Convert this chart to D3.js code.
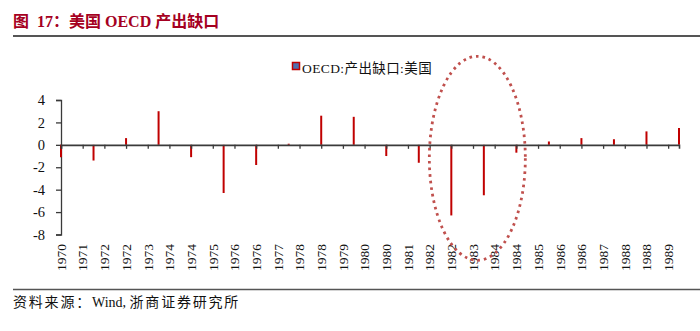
<!DOCTYPE html>
<html>
<head>
<meta charset="utf-8">
<script src="https://cdn.jsdelivr.net/npm/d3@7"></script>
<style>
  body { margin: 0; background: #fff; }
  svg { display: block; }
</style>
</head>
<body>
<svg id="chart" width="700" height="331"></svg>
<script>
// US output gap (OECD estimate), annual values 1970–1989
const years = [1970, 1971, 1972, 1973, 1974, 1975, 1976, 1977, 1978, 1979,
               1980, 1981, 1982, 1983, 1984, 1985, 1986, 1987, 1988, 1989];
const outputGap = [-1.1, -1.4, 0.6, 3.0, -1.1, -4.3, -1.8, 0.1, 2.6, 2.5,
                   -1.0, -1.6, -6.3, -4.5, -0.7, 0.3, 0.6, 0.5, 1.2, 1.5];

// Axis labels
const yTicks = [4, 2, 0, -2, -4, -6, -8];
const xTickLabels = ["1970","1971","1972","1972","1973","1974","1974","1975","1976","1976",
                     "1977","1978","1978","1979","1980","1980","1981","1982","1982","1983",
                     "1984","1984","1985","1986","1986","1987","1988","1988","1989"];
const xTickStep = 2 / 3; // axis labels every eight months

const titleText = "图  17：美国 OECD 产出缺口";
const legendText = "OECD:产出缺口:美国";
// Footer pieces: CJK runs get extra tracking, the Latin run does not
const sourceParts = [
  { text: "资料来源：", spacing: 1.8 },
  { text: "Wind, ", spacing: 0 },
  { text: "浙商证券研究所", spacing: 1.8 }
];

const svg = d3.select("#chart");
const serif = "'Liberation Serif', 'Times New Roman', 'Noto Sans CJK SC', serif";
const barColor = "#C00000";
const axisColor = "#3a3a3a";

const x = d3.scaleLinear().domain([1970, 1989]).range([61, 679]);
const y = d3.scaleLinear().domain([-8, 4]).range([234.5, 100]);

// Header
svg.append("text")
  .attr("x", 13).attr("y", 27)
  .attr("font-family", "'Liberation Serif', 'Noto Sans CJK SC', serif")
  .attr("font-weight", "bold")
  .attr("font-size", 16)
  .attr("fill", "#A50021")
  .style("white-space", "pre")
  .text(titleText);
svg.append("line")
  .attr("x1", 13).attr("x2", 700).attr("y1", 36).attr("y2", 36)
  .attr("stroke", "#555").attr("stroke-width", 2);

// Legend
svg.append("rect")
  .attr("x", 292.5).attr("y", 62.5).attr("width", 7).attr("height", 7)
  .attr("fill", "#4F6FB0").attr("stroke", barColor).attr("stroke-width", 1.5);
svg.append("text")
  .attr("x", 302).attr("y", 73)
  .attr("font-family", serif).attr("font-size", 13.5).attr("fill", "#111")
  .attr("letter-spacing", 0.4)
  .text(legendText);

// Y axis
const yAxis = d3.axisLeft(y).tickValues(yTicks).tickSize(5).tickPadding(11)
  .tickFormat(d3.format("d"));
const gy = svg.append("g").attr("transform", `translate(${x(1970)},0)`).call(yAxis);
gy.select(".domain").attr("stroke", axisColor).attr("stroke-width", 1.3);
gy.selectAll(".tick line").attr("stroke", axisColor).attr("stroke-width", 1.3);
gy.selectAll(".tick text")
  .attr("font-family", serif).attr("font-size", 14.5).attr("fill", "#111")
  .text(d => d < 0 ? "-" + Math.abs(d) : d);

// Bars
svg.append("g").selectAll("line")
  .data(years.map((yr, i) => ({ yr, v: outputGap[i] })))
  .join("line")
  .attr("x1", d => x(d.yr)).attr("x2", d => x(d.yr))
  .attr("y1", y(0)).attr("y2", d => y(d.v))
  .attr("stroke", barColor).attr("stroke-width", 2);

// Zero baseline with tick marks
const xTickVals = xTickLabels.map((_, i) => 1970 + i * xTickStep);
const xAxis = d3.axisBottom(x).tickValues(xTickVals).tickSize(4).tickFormat("");
const gx = svg.append("g").attr("transform", `translate(0,${y(0)})`).call(xAxis);
gx.select(".domain").attr("stroke", axisColor).attr("stroke-width", 1.6);
gx.selectAll(".tick line").attr("stroke", axisColor).attr("stroke-width", 1.3);

// Rotated year labels below the plot
svg.append("g").selectAll("text")
  .data(xTickVals.map((v, i) => ({ v, label: xTickLabels[i] })))
  .join("text")
  .attr("transform", d => `translate(${x(d.v) + 4.8},244) rotate(-90)`)
  .attr("text-anchor", "end")
  .attr("font-family", serif).attr("font-size", 13.5).attr("fill", "#111")
  .text(d => d.label);

// Highlight around the early-1980s recession
svg.append("ellipse")
  .attr("cx", x(1982.8)).attr("cy", y(-1.2))
  .attr("rx", 48).attr("ry", 102)
  .attr("fill", "none")
  .attr("stroke", "#C0504D").attr("stroke-width", 2.8)
  .attr("stroke-dasharray", "2.6 4");

// Footer
svg.append("line")
  .attr("x1", 13).attr("x2", 700).attr("y1", 289.5).attr("y2", 289.5)
  .attr("stroke", "#555").attr("stroke-width", 1.5);
svg.append("text")
  .attr("x", 13).attr("y", 307)
  .attr("font-family", serif).attr("font-size", 14).attr("fill", "#111")
  .style("white-space", "pre")
  .selectAll("tspan")
  .data(sourceParts)
  .join("tspan")
  .attr("letter-spacing", d => d.spacing)
  .text(d => d.text);
</script>
</body>
</html>
